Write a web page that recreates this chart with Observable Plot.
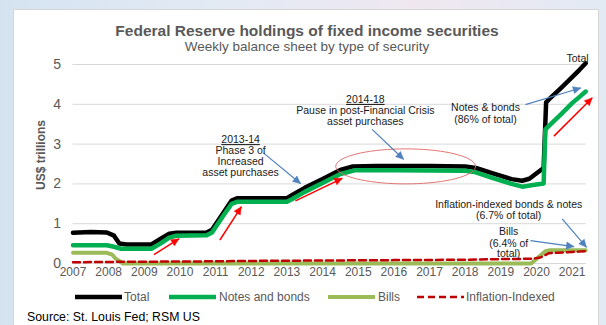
<!DOCTYPE html>
<html><head><meta charset="utf-8">
<script src="https://cdn.jsdelivr.net/npm/d3@7"></script>
<script src="https://cdn.jsdelivr.net/npm/@observablehq/plot@0.6"></script>
<style>
html,body{margin:0;padding:0;}
body{width:606px;height:325px;overflow:hidden;position:relative;font-family:"Liberation Sans",Arial,sans-serif;
background:linear-gradient(90deg,#d5e3f1 0%,#e2eaf4 35%,#efe7f0 70%,#e2eaf4 100%);}
#card{position:absolute;left:13px;top:9px;width:586px;height:330px;background:#fff;border:1px solid #d6d6d6;box-sizing:border-box;}
.abs{position:absolute;white-space:nowrap;}
#chart{position:absolute;left:0;top:40px;}
</style></head><body>
<div id="card"></div>
<div class="abs" style="left:0;width:614px;text-align:center;top:23px;font-size:15.5px;line-height:15.5px;font-weight:bold;color:#595959">Federal Reserve holdings of fixed income securities</div>
<div class="abs" style="left:0;width:614px;text-align:center;top:40px;font-size:13.5px;line-height:13.5px;color:#595959">Weekly balance sheet by type of security</div>
<div class="abs" style="left:40.5px;top:155px;transform:translate(-50%,-50%) rotate(-90deg);font-size:12px;line-height:12px;font-weight:bold;color:#595959">US$ trillions</div>
<div id="chart"></div>
<div id="legend"></div>
<div class="abs" style="left:27px;top:311px;font-size:12.3px;line-height:12.3px;color:#000">Source: St. Louis Fed; RSM US</div>
<script>
// ---------- data (year, US$ trillions) ----------
const total = [
 [2007.0,0.77],[2007.5,0.79],[2007.95,0.78],[2008.15,0.70],[2008.3,0.50],[2008.5,0.48],[2009.2,0.48],
 [2009.45,0.62],[2009.7,0.75],[2009.9,0.77],[2010.75,0.78],[2010.9,0.85],[2011.2,1.25],[2011.45,1.58],
 [2011.6,1.64],[2012.5,1.64],[2013.0,1.64],[2013.15,1.72],[2013.5,1.90],[2014.0,2.12],[2014.5,2.35],
 [2014.85,2.44],[2015.5,2.45],[2017.0,2.45],[2018.0,2.44],[2018.3,2.40],[2018.8,2.26],[2019.3,2.12],
 [2019.6,2.08],[2019.8,2.13],[2020.05,2.30],[2020.2,2.40],[2020.27,4.05],[2020.4,4.17],[2020.7,4.42],
 [2021.0,4.68],[2021.2,4.86],[2021.38,5.03]
];
const notesBonds = [
 [2007.0,0.46],[2007.95,0.46],[2008.15,0.42],[2008.35,0.37],[2009.2,0.37],[2009.45,0.50],[2009.7,0.65],
 [2009.9,0.70],[2010.75,0.71],[2010.9,0.78],[2011.2,1.18],[2011.45,1.50],[2011.6,1.55],[2013.0,1.55],
 [2013.15,1.62],[2013.5,1.80],[2014.0,2.02],[2014.5,2.25],[2014.9,2.34],[2016.0,2.34],[2018.0,2.33],
 [2018.3,2.29],[2018.8,2.14],[2019.3,2.00],[2019.6,1.93],[2019.9,1.97],[2020.2,2.01],[2020.25,3.37],
 [2020.4,3.50],[2020.7,3.76],[2021.0,4.03],[2021.2,4.18],[2021.38,4.32]
];
const bills = [
 [2007.0,0.27],[2007.95,0.27],[2008.1,0.22],[2008.2,0.12],[2008.4,0.0],[2019.85,0.0],[2020.25,0.31],
 [2020.35,0.33],[2021.38,0.33]
];
const inflationIndexed = [
 [2007.0,0.03],[2008.0,0.04],[2009.0,0.045],[2010.0,0.05],[2011.0,0.055],[2012.0,0.065],[2013.0,0.07],
 [2014.0,0.075],[2015.0,0.08],[2016.0,0.085],[2017.0,0.09],[2018.0,0.095],[2019.0,0.11],[2019.9,0.12],
 [2020.1,0.15],[2020.2,0.19],[2020.35,0.26],[2020.6,0.27],[2021.0,0.29],[2021.38,0.31]
];
const xTicks = [2007,2008,2009,2010,2011,2012,2013,2014,2015,2016,2017,2018,2019,2020,2021];
const yTicks = [0,1,2,3,4,5];
const seriesNames = ["Total","Notes and bonds","Bills","Inflation-Indexed"];

// ---------- annotations (data coordinates) ----------
const notes = [
 {x:2021.15,y:5.15,text:"Total"},
 {x:2015.2,y:4.12,text:"2014-18",u:true},
 {x:2015.2,y:3.84,text:"Pause in post-Financial Crisis"},
 {x:2015.2,y:3.565,text:"asset purchases"},
 {x:2011.7,y:3.11,text:"2013-14",u:true},
 {x:2011.7,y:2.835,text:"Phase 3 of"},
 {x:2011.7,y:2.56,text:"Increased"},
 {x:2011.7,y:2.285,text:"asset purchases"},
 {x:2018.57,y:3.91,text:"Notes & bonds"},
 {x:2018.57,y:3.62,text:"(86% of total)"},
 {x:2019.22,y:1.49,text:"Inflation-indexed bonds & notes"},
 {x:2019.22,y:1.20,text:"(6.7% of total)"},
 {x:2019.22,y:0.79,text:"Bills"},
 {x:2019.22,y:0.51,text:"(6.4% of"},
 {x:2019.22,y:0.24,text:"total)"}
];
const BLUE = "#4f81bd", RED = "#ff0000";
const arrows = [
 {x1:2015.39,y1:3.37,x2:2016.27,y2:2.62,c:BLUE,w:1.2},
 {x1:2012.34,y1:2.78,x2:2013.38,y2:2.01,c:BLUE,w:1.2},
 {x1:2019.69,y1:3.99,x2:2021.24,y2:4.41,c:BLUE,w:1.2},
 {x1:2020.72,y1:1.12,x2:2021.40,y2:0.41,c:BLUE,w:1.2},
 {x1:2019.83,y1:0.575,x2:2021.05,y2:0.425,c:BLUE,w:1.2},
 {x1:2009.27,y1:0.225,x2:2009.97,y2:0.62,c:RED,w:1.5},
 {x1:2011.12,y1:0.59,x2:2011.72,y2:1.425,c:RED,w:1.5},
 {x1:2013.24,y1:1.575,x2:2014.55,y2:2.14,c:RED,w:1.5},
 {x1:2020.49,y1:3.2,x2:2021.56,y2:4.16,c:RED,w:1.5}
];
const ellipse = {cx:2016.33, cy:2.44, rx:1.96, ry:0.44};
const ellipsePts = d3.range(0, 73).map(i => {
  const t = i / 72 * 2 * Math.PI;
  return [ellipse.cx + ellipse.rx * Math.cos(t), ellipse.cy + ellipse.ry * Math.sin(t)];
});

const colors = {total:"#000000", notes:"#00b050", bills:"#9bbb59", infl:"#c00000"};
const FONT = "Liberation Sans, Arial, sans-serif";

function build(extra) {
  return Plot.plot({
    width: 606, height: 245,
    marginLeft: 72.5, marginRight: 20.1, marginTop: 24, marginBottom: 22,
    x: {domain: [2007, 2021.4], axis: null},
    y: {domain: [0, 5], axis: null},
    style: {background: "transparent", overflow: "visible", fontFamily: FONT},
    marks: [
      Plot.ruleY(yTicks, {stroke: "#d9d9d9", strokeWidth: 1}),
      Plot.text(yTicks, {y: d => d, text: d => String(d), frameAnchor: "left", dx: -12, textAnchor: "end", fontSize: 14, fill: "#595959"}),
      Plot.text(xTicks, {x: d => d, text: d => String(d), frameAnchor: "bottom", dy: 12.5, fontSize: 12, fill: "#595959"}),
      Plot.line(total, {x: d => d[0], y: d => d[1], stroke: colors.total, strokeWidth: 4.5, strokeLinejoin: "round"}),
      Plot.line(notesBonds, {x: d => d[0], y: d => d[1], stroke: colors.notes, strokeWidth: 4.5, strokeLinejoin: "round"}),
      Plot.line(bills, {x: d => d[0], y: d => d[1], stroke: colors.bills, strokeWidth: 4, strokeLinejoin: "round"}),
      Plot.line(inflationIndexed, {x: d => d[0], y: d => d[1], stroke: colors.infl, strokeWidth: 2.5, strokeDasharray: "7,4"}),
      Plot.line(ellipsePts, {x: d => d[0], y: d => d[1], stroke: "#e06666", strokeWidth: 0.9}),
      Plot.link(arrows, {x1: "x1", y1: "y1", x2: "x2", y2: "y2", stroke: "c", strokeWidth: "w"}),
      Plot.text(notes, {x: "x", y: "y", text: "text", fontSize: 10.5, fill: "#1a1a1a"}),
      ...extra
    ]
  });
}

// first pass to read the scales, then arrowheads as filled triangles
const base = build([]);
const sxd = base.scale("x"), syd = base.scale("y");
const sx = d3.scaleLinear(sxd.domain, sxd.range), sy = d3.scaleLinear(syd.domain, syd.range);
const heads = [];
arrows.forEach((a, i) => {
  const x1 = sx(a.x1), y1 = sy(a.y1), x2 = sx(a.x2), y2 = sy(a.y2);
  const L = Math.hypot(x2 - x1, y2 - y1), ux = (x2 - x1) / L, uy = (y2 - y1) / L;
  const len = 7.5, half = 3.6;
  const bx = x2 - ux * len, by = y2 - uy * len;
  const pts = [[x2, y2], [bx - uy * half, by + ux * half], [bx + uy * half, by - ux * half], [x2, y2]];
  pts.forEach(p => heads.push({id: i, c: a.c, x: sx.invert(p[0]), y: sy.invert(p[1])}));
});
const chart = build([
  Plot.line(heads, {x: "x", y: "y", z: "id", fill: "c", stroke: "c", strokeWidth: 0.5})
]);
d3.select(chart).selectAll("text").filter(function() {
  return this.textContent === "2014-18" || this.textContent === "2013-14";
}).style("text-decoration", "underline");
document.getElementById("chart").appendChild(chart);

// legend (HTML below the svg)
const legendItems = [
  {name: seriesNames[0], c: colors.total, w: 4.5, dash: null, x: 75, tx: 124},
  {name: seriesNames[1], c: colors.notes, w: 4.5, dash: null, x: 168.5, tx: 219},
  {name: seriesNames[2], c: colors.bills, w: 4, dash: null, x: 327.5, tx: 378},
  {name: seriesNames[3], c: colors.infl, w: 2.5, dash: "7,4", x: 416.5, tx: 466}
];
const lg = document.getElementById("legend");
legendItems.forEach(it => {
  const s = document.createElementNS("http://www.w3.org/2000/svg", "svg");
  s.setAttribute("width", 48); s.setAttribute("height", 8);
  s.style.position = "absolute"; s.style.left = it.x + "px"; s.style.top = "293px";
  const l = document.createElementNS("http://www.w3.org/2000/svg", "line");
  l.setAttribute("x1", 0); l.setAttribute("x2", 47); l.setAttribute("y1", 4); l.setAttribute("y2", 4);
  l.setAttribute("stroke", it.c); l.setAttribute("stroke-width", it.w);
  if (it.dash) l.setAttribute("stroke-dasharray", it.dash);
  s.appendChild(l); lg.appendChild(s);
  const t = document.createElement("div");
  t.className = "abs"; t.textContent = it.name;
  t.style.cssText += "left:" + it.tx + "px;top:291px;font-size:12px;line-height:12px;color:#595959";
  lg.appendChild(t);
});
</script>
</body></html>
